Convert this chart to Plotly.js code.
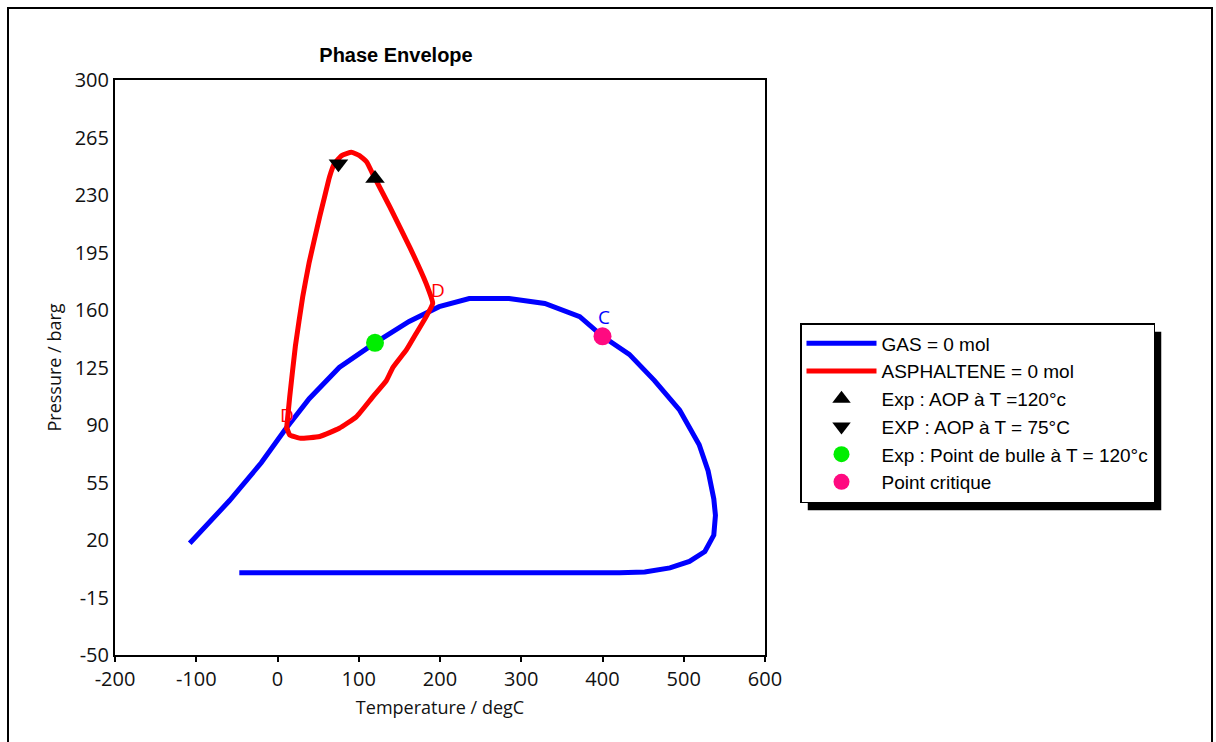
<!DOCTYPE html>
<html>
<head>
<meta charset="utf-8">
<script src="https://cdn.plot.ly/plotly-3.0.1.min.js"></script>
<style>html,body{margin:0;padding:0;background:#fff;}#chart{width:1216px;height:742px;}</style>
</head>
<body>
<div id="chart"></div>
<script>
// GAS phase envelope (T degC, P barg)
const gasT = [-108, -59, -20, 9, 39, 76, 120, 162, 199, 236, 285, 329, 372, 400, 433, 464, 495, 519, 530, 537, 539, 537, 526, 507, 483, 452, 421, 300, 150, 0, -47];
const gasP = [18, 44, 67, 87, 106, 125, 140, 153, 162, 167, 167, 164, 156, 144, 133, 117, 99, 78, 62, 45, 35, 23, 13, 7, 3, 0.5, 0, 0, 0, 0, 0];
// ASPHALTENE onset envelope
const asphT = [11, 15, 22, 31, 39, 52, 58, 64, 70, 79, 91, 101, 110, 117, 138, 163, 183, 191, 183, 171, 159, 142, 134, 117, 97, 76, 52, 27, 15, 11];
const asphP = [87, 107, 138, 168, 189, 217, 229, 241, 249, 254, 256, 254, 250, 243, 223, 198, 176, 164, 156, 146, 136, 125, 117, 107, 95, 88, 83, 82, 84, 89];
// Experimental points
const aop120T = [120], aop120P = [240];
const aop75T = [75], aop75P = [249];
const bubbleT = [120], bubbleP = [140];
const critT = [400], critP = [144];
const xTicks = [-200, -100, 0, 100, 200, 300, 400, 500, 600];
const yTicks = [-50, -15, 20, 55, 90, 125, 160, 195, 230, 265, 300];

const legendFont = '"Liberation Sans", Arial, sans-serif';
const tickFont = '"Open Sans", "Noto Sans", sans-serif';

const traces = [
  {x: gasT, y: gasP, mode: 'lines', name: 'GAS = 0 mol', line: {color: '#0000ff', width: 5}},
  {x: asphT, y: asphP, mode: 'lines', name: 'ASPHALTENE = 0 mol', line: {color: '#ff0000', width: 5, shape: 'spline', smoothing: 0.4}},
  {x: aop120T, y: aop120P, mode: 'markers', name: 'Exp : AOP à T =120°c', marker: {symbol: 'triangle-up', color: '#000', size: 17}},
  {x: aop75T, y: aop75P, mode: 'markers', name: 'EXP : AOP à T = 75°C', marker: {symbol: 'triangle-down', color: '#000', size: 17}},
  {x: bubbleT, y: bubbleP, mode: 'markers', name: 'Exp : Point de bulle à T = 120°c', marker: {symbol: 'circle', color: '#00ee00', size: 18}},
  {x: critT, y: critP, mode: 'markers', name: 'Point critique', marker: {symbol: 'circle', color: '#ff0a80', size: 18}}
];

const ML = 115, MT = 80, PW = 650, PH = 575;
const layout = {
  width: 1216, height: 742,
  margin: {l: ML, r: 1216 - ML - PW, t: MT, b: 742 - MT - PH},
  paper_bgcolor: '#fff', plot_bgcolor: '#fff',
  showlegend: true,
  title: {text: '<b>Phase Envelope</b>', font: {family: legendFont, size: 20, color: '#000'}, x: 396/1216, xanchor: 'center', y: 1 - 55/742, yanchor: 'middle'},
  xaxis: {
    range: [-200, 600], tickvals: xTicks, ticktext: xTicks.map(String), showgrid: false, zeroline: false,
    showline: true, linecolor: '#000', linewidth: 2, mirror: true,
    ticks: 'outside', ticklen: 5, tickcolor: '#000', tickwidth: 2,
    tickfont: {family: tickFont, size: 20, color: '#111'},
    title: {text: 'Temperature / degC', font: {family: tickFont, size: 18, color: '#111'}, standoff: 10}
  },
  yaxis: {
    range: [-50, 300], tickvals: yTicks, ticktext: yTicks.map(String), showgrid: false, zeroline: false,
    showline: true, linecolor: '#000', linewidth: 2, mirror: true,
    ticks: '', tickfont: {family: tickFont, size: 20, color: '#111'},
    title: {text: 'Pressure / barg', font: {family: tickFont, size: 18, color: '#111'}, standoff: 8}
  },
  legend: {
    x: 800/1216, xanchor: 'left', y: 1 - 323/742, yanchor: 'top',
    xref: 'container', yref: 'container',
    bgcolor: '#fff', bordercolor: '#000', borderwidth: 1.5,
    font: {family: legendFont, size: 19, color: '#000'},
    tracegroupgap: 0, itemwidth: 70
  },
  annotations: [
    {x: 12, y: 96, text: 'D', showarrow: false, font: {family: tickFont, size: 19, color: '#ff0000'}, xanchor: 'center', yanchor: 'middle'},
    {x: 197, y: 172, text: 'D', showarrow: false, font: {family: tickFont, size: 19, color: '#ff0000'}, xanchor: 'center', yanchor: 'middle'},
    {x: 402, y: 156, text: 'C', showarrow: false, font: {family: tickFont, size: 19, color: '#0000ff'}, xanchor: 'center', yanchor: 'middle'}
  ],
  shapes: [
    {type: 'rect', xref: 'paper', yref: 'paper', x0: (8-ML)/PW, x1: (1212-ML)/PW, y0: (MT+PH-745)/PH, y1: (MT+PH-8)/PH, line: {color: '#000', width: 2}},
    {type: 'rect', xref: 'paper', yref: 'paper', x0: (807-ML)/PW, x1: (1176-ML)/PW, y0: (MT+PH-503)/PH, y1: (MT+PH-330)/PH, fillcolor: '#000', line: {width: 0}}
  ]
};

const gd = document.getElementById('chart');
Plotly.newPlot(gd, traces, layout, {displayModeBar: false, staticPlot: true}).then(function () {
  const bg = gd.querySelector('.legend .bg');
  if (!bg) return;
  const r = bg.getBoundingClientRect();
  const g = gd.getBoundingClientRect();
  const left = r.left - g.left, top = r.top - g.top, right = r.right - g.left, bottom = r.bottom - g.top;
  return Plotly.relayout(gd, {
    'shapes[1].x0': (left + 7 - ML) / PW,
    'shapes[1].x1': (right + 7 - ML) / PW,
    'shapes[1].y0': (MT + PH - (bottom + 8)) / PH,
    'shapes[1].y1': (MT + PH - (top + 8)) / PH
  });
});
</script>
</body>
</html>
